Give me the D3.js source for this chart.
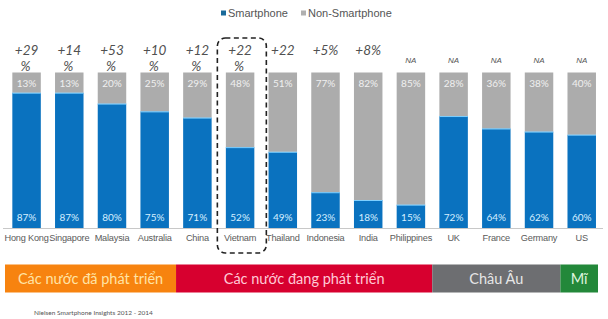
<!DOCTYPE html>
<html><head><meta charset="utf-8">
<script src="https://cdn.jsdelivr.net/npm/d3@7"></script>
<style>body{margin:0;background:#fff}svg{display:block}</style>
</head><body>
<svg id="c" width="608" height="319"></svg>
<script>
const countries = ["Hong Kong","Singapore","Malaysia","Australia","China","Vietnam","Thailand","Indonesia","India","Philippines","UK","France","Germany","US"];
const smartphone = [87,87,80,75,71,52,49,23,18,15,72,64,62,60];
const nonSmartphone = [13,13,20,25,29,48,51,77,82,85,28,36,38,40];
const growth = ["+29 %","+14 %","+53 %","+10 %","+12 %","+22 %","+22","+5%","+8%","NA","NA","NA","NA","NA"];
const groupNames = ["Các nước đã phát triển","Các nước đang phát triển","Châu Âu","Mĩ"];
const groupFirst = ["Hong Kong","China","UK","US"];
const groupLast = ["Australia","Philippines","Germany","US"];
const groupColors = ["#f7830f","#d7002f","#6d6e71","#23883a"];
const groupText = ["#ffe3a6","#ffc9d6","#e6e6e6","#dff5df"];
const seriesNames = ["Smartphone","Non-Smartphone"];
const seriesColors = ["#0a72bf","#acacac"];
const highlight = "Vietnam";

const svg = d3.select("#c");
const x = d3.scaleBand().domain(countries).range([5.2,603.1]).paddingInner(0.333).paddingOuter(0.167);
const y = d3.scaleLinear().domain([0,100]).range([228,72.5]);
const bw = x.bandwidth(), st = x.step();

const data = countries.map((c,i)=>({c, s:smartphone[i], n:nonSmartphone[i], g:growth[i]}));

// bars
const g = svg.append("g");
g.selectAll("rect.s").data(data).join("rect").attr("class","s")
  .attr("x",d=>x(d.c)).attr("width",bw)
  .attr("y",d=>y(d.s)).attr("height",d=>y(0)-y(d.s)).attr("fill",seriesColors[0]);
g.selectAll("rect.n").data(data).join("rect").attr("class","n")
  .attr("x",d=>x(d.c)).attr("width",bw)
  .attr("y",d=>y(d.s+d.n)).attr("height",d=>y(d.s)-y(d.s+d.n)).attr("fill",seriesColors[1]);
g.selectAll("line.edge").data(data).join("line").attr("class","edge")
  .attr("x1",d=>x(d.c)).attr("x2",d=>x(d.c)+bw)
  .attr("y1",d=>y(d.s)+0.5).attr("y2",d=>y(d.s)+0.5)
  .attr("stroke","#7fd0ff").attr("stroke-width",1);

// value labels
const lblFont = "Lato, 'Open Sans', sans-serif";
g.selectAll("text.nv").data(data).join("text").attr("class","nv")
  .attr("x",d=>x(d.c)+bw/2).attr("y",y(100)+14.5).attr("text-anchor","middle")
  .attr("font-family",lblFont).attr("font-size",10).attr("fill","#f0f0f0")
  .text(d=>d.n+"%");
g.selectAll("text.sv").data(data).join("text").attr("class","sv")
  .attr("x",d=>x(d.c)+bw/2).attr("y",y(0)-7).attr("text-anchor","middle")
  .attr("font-family",lblFont).attr("font-size",10).attr("fill","#d6efff")
  .text(d=>d.s+"%");

// axis
const ax = svg.append("g").attr("transform",`translate(0,${y(0)})`)
  .call(d3.axisBottom(x).tickSize(0).tickPadding(6));
ax.select(".domain").attr("stroke","#c8c8c8").attr("d",`M3,0.5H603`);
ax.selectAll("text").attr("font-family","'Liberation Sans', Arial, sans-serif").attr("font-size",9.2)
  .attr("letter-spacing",-0.2).attr("fill","#5a5a5a");

// growth labels
const gl = svg.append("g");
data.forEach(d=>{
  const cx = x(d.c)+bw/2;
  if(d.g==="NA"){
    gl.append("text").attr("x",cx).attr("y",63).attr("text-anchor","middle")
      .attr("font-family","'Liberation Sans', Arial, sans-serif").attr("font-style","italic")
      .attr("font-size",8).attr("fill","#555").text(d.g);
  } else {
    const parts = d.g.split(" ");
    parts.forEach((p,k)=>{
      gl.append("text").attr("x",cx+(k===0?0:-1)).attr("y",55+k*15.5).attr("text-anchor","middle")
        .attr("font-family",lblFont).attr("font-style","italic")
        .attr("font-size",13.5).attr("fill","#505050").text(p);
    });
  }
});

// highlight dashed box
svg.append("rect").attr("x",x(highlight)-8.5).attr("y",38).attr("width",bw+20.5).attr("height",215)
  .attr("rx",8).attr("fill","none").attr("stroke","#222").attr("stroke-width",1.6).attr("stroke-dasharray","5,3.5");

// legend
const lg = svg.append("g");
const legX = [221,301];
seriesNames.forEach((s,i)=>{
  lg.append("rect").attr("x",legX[i]).attr("y",10.5).attr("width",5).attr("height",5).attr("fill",i===0?"#1a6a9a":"#b0b0b0");
  lg.append("text").attr("x",legX[i]+7).attr("y",16.5).attr("font-family","'Liberation Sans', Arial, sans-serif")
    .attr("font-size",11).attr("fill","#555").text(s);
});

// group bands
const bg = svg.append("g");
groupNames.forEach((n,i)=>{
  let x0 = x(groupFirst[i]) - (st-bw)/2;
  let x1 = x(groupLast[i]) + bw + (st-bw)/2;
  if(i===0) x0 = 5;
  if(i===groupNames.length-1) x1 = 598;
  bg.append("rect").attr("x",x0).attr("y",264.5).attr("width",x1-x0).attr("height",28).attr("fill",groupColors[i]);
  bg.append("text").attr("x",(x0+x1)/2).attr("y",283.5).attr("text-anchor","middle")
    .attr("font-family",lblFont).attr("font-size",14.5).attr("fill",groupText[i]).text(n);
});

// source
svg.append("text").attr("x",34).attr("y",314.5).attr("font-family",lblFont).attr("font-size",6.5)
  .attr("fill","#555").text("Nielsen Smartphone Insights 2012 - 2014");
</script>
</body></html>
